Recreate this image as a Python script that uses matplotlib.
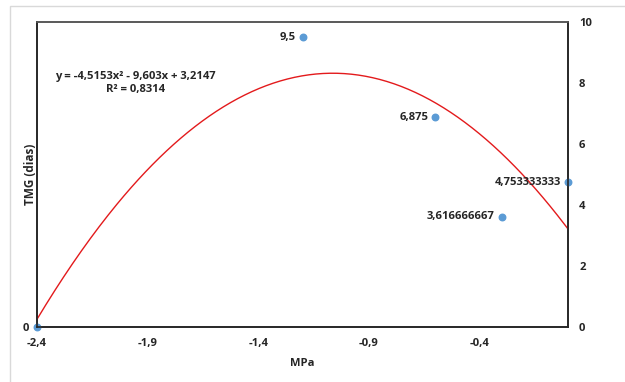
import numpy as np
import matplotlib
matplotlib.use("Agg")
import matplotlib.pyplot as plt
from matplotlib.patches import Rectangle

# Data
mpa = [-2.4, -1.2, -0.6, -0.3, 0.0]
tmg = [0.0, 9.5, 6.875, 3.616666667, 4.753333333]
point_labels = ["", "9,5", "6,875", "3,616666667", "4,753333333"]
coef = [-4.5153, -9.603, 3.2147]
x_ticks = [-2.4, -1.9, -1.4, -0.9, -0.4]
x_ticklabels = ["-2,4", "-1,9", "-1,4", "-0,9", "-0,4"]
y_ticks = [0, 2, 4, 6, 8, 10]
eq_text = "y = -4,5153x² - 9,603x + 3,2147\nR² = 0,8314"

plt.rcParams['font.family'] = ['Open Sans', 'DejaVu Sans']
plt.rcParams['font.weight'] = 'bold'
FS = 8.1
TC = '#262626'

fig = plt.figure(figsize=(6.25, 3.82), dpi=100)
fig.patches.append(Rectangle((10/625, -0.1), 1.0, 1 - 6/382 + 0.1, transform=fig.transFigure,
                             fill=False, edgecolor='#d9d9d9', linewidth=1.0))

ax = fig.add_axes([37/625, 55/382, 531/625, 305/382])
ax.set_xlim(-2.4, 0)
ax.set_ylim(0, 10)

ax.grid(axis='y', color='#e6e6e6', linewidth=1.0)
ax.set_axisbelow(True)

xs = np.linspace(-2.4, 0, 300)
ys = np.polyval(coef, xs)
ax.plot(xs, ys, color='#e31a1c', linewidth=1.0, zorder=3)

ax.scatter(mpa, tmg, s=22, color='#5b9bd5', zorder=4, clip_on=False)
for x, y, lab in zip(mpa, tmg, point_labels):
    if lab:
        ax.annotate(lab, (x, y), xytext=(-5, 0), textcoords='offset points',
                    ha='right', va='center', fontsize=FS, fontweight='bold', color=TC)

ax.text(0.185, 0.80, eq_text, transform=ax.transAxes, ha='center', va='center',
        fontsize=FS, fontweight='bold', color=TC, multialignment='center',
        linespacing=1.15)

ax.set_xticks(x_ticks)
ax.set_xticklabels(x_ticklabels)
ax.set_yticks([0])
ax.set_yticklabels(["0"])
ax.tick_params(axis='both', length=0, labelsize=FS, colors=TC, pad=8)
ax.tick_params(axis='y', pad=6)

ax2 = ax.twinx()
ax2.set_ylim(0, 10)
ax2.set_yticks(y_ticks)
ax2.tick_params(axis='y', length=0, labelsize=FS, colors=TC, pad=8)

for a in (ax, ax2):
    for s in ['left', 'bottom', 'right']:
        a.spines[s].set_color(TC)
        a.spines[s].set_linewidth(1.2)
    a.spines['top'].set_color('#595959')
    a.spines['top'].set_linewidth(1.2)

ax.set_xlabel("MPa", fontsize=FS, fontweight='bold', color=TC)
ax.xaxis.set_label_coords(0.5, -0.102)
ax.set_ylabel("TMG (dias)", fontsize=FS + 0.4, fontweight='bold', color=TC)
ax.yaxis.set_label_coords(0.0, 0.5)

fig.savefig("out.png", dpi=100)
